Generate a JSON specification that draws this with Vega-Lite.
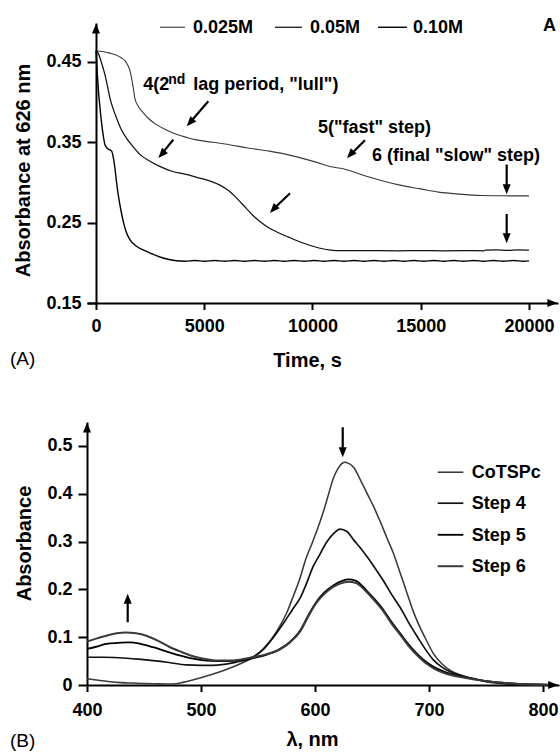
{
  "$schema": "https://vega.github.io/schema/vega-lite/v6.json",
  "padding": {"left": 10, "top": 17, "right": 0, "bottom": 0},
  "background": "white",
  "config": {
    "font": "Liberation Sans",
    "view": {"stroke": null},
    "axis": {"grid": false, "domainColor": "#000", "domainWidth": 2, "tickColor": "#000", "tickWidth": 2, "labelColor": "#000", "labelFont": "Liberation Sans", "labelFontSize": 18, "labelFontWeight": "bold", "titleColor": "#000", "titleFont": "Liberation Sans", "titleFontSize": 20, "titleFontWeight": "bold", "labelFlush": false, "labelOverlap": false},
    "axisX": {"tickSize": 6.5},
    "axisY": {"tickSize": 9, "labelPadding": 6, "titlePadding": 12},
    "text": {"font": "Liberation Sans", "fontSize": 18, "fontWeight": "bold", "color": "#000"}
  },
  "datasets": {
    "curvesA": [
      {"series":"0.025M","x":0,"y":0.464},{"series":"0.025M","x":300,"y":0.463},{"series":"0.025M","x":644,"y":0.461},{"series":"0.025M","x":900,"y":0.459},{"series":"0.025M","x":1182,"y":0.455},{"series":"0.025M","x":1350,"y":0.451},{"series":"0.025M","x":1486,"y":0.445},{"series":"0.025M","x":1580,"y":0.438},{"series":"0.025M","x":1642,"y":0.430},{"series":"0.025M","x":1720,"y":0.418},{"series":"0.025M","x":1794,"y":0.405},{"series":"0.025M","x":1950,"y":0.395},{"series":"0.025M","x":2176,"y":0.387},{"series":"0.025M","x":2450,"y":0.379},{"series":"0.025M","x":2792,"y":0.372},{"series":"0.025M","x":3200,"y":0.366},{"series":"0.025M","x":3712,"y":0.360},{"series":"0.025M","x":4200,"y":0.356},{"series":"0.025M","x":4632,"y":0.353},{"series":"0.025M","x":5400,"y":0.350},{"series":"0.025M","x":6164,"y":0.347},{"series":"0.025M","x":7000,"y":0.343},{"series":"0.025M","x":8004,"y":0.339},{"series":"0.025M","x":8800,"y":0.335},{"series":"0.025M","x":9536,"y":0.330},{"series":"0.025M","x":10200,"y":0.325},{"series":"0.025M","x":10800,"y":0.320},{"series":"0.025M","x":11420,"y":0.317},{"series":"0.025M","x":12452,"y":0.308},{"series":"0.025M","x":13984,"y":0.297},{"series":"0.025M","x":15000,"y":0.292},{"series":"0.025M","x":15824,"y":0.288},{"series":"0.025M","x":16800,"y":0.2855},{"series":"0.025M","x":17818,"y":0.2838},{"series":"0.025M","x":18500,"y":0.2835},{"series":"0.025M","x":19300,"y":0.2833},{"series":"0.025M","x":20000,"y":0.2833},
      {"series":"0.05M","x":0,"y":0.464},{"series":"0.05M","x":100,"y":0.461},{"series":"0.05M","x":184,"y":0.455},{"series":"0.05M","x":300,"y":0.445},{"series":"0.05M","x":414,"y":0.434},{"series":"0.05M","x":530,"y":0.420},{"series":"0.05M","x":644,"y":0.405},{"series":"0.05M","x":800,"y":0.391},{"series":"0.05M","x":952,"y":0.380},{"series":"0.05M","x":1150,"y":0.367},{"series":"0.05M","x":1412,"y":0.355},{"series":"0.05M","x":1700,"y":0.345},{"series":"0.05M","x":2024,"y":0.335},{"series":"0.05M","x":2450,"y":0.327},{"series":"0.05M","x":2944,"y":0.320},{"series":"0.05M","x":3500,"y":0.314},{"series":"0.05M","x":4172,"y":0.310},{"series":"0.05M","x":4700,"y":0.306},{"series":"0.05M","x":5244,"y":0.302},{"series":"0.05M","x":5700,"y":0.297},{"series":"0.05M","x":6164,"y":0.289},{"series":"0.05M","x":6550,"y":0.279},{"series":"0.05M","x":6932,"y":0.268},{"series":"0.05M","x":7250,"y":0.259},{"series":"0.05M","x":7544,"y":0.252},{"series":"0.05M","x":7900,"y":0.245},{"series":"0.05M","x":8312,"y":0.239},{"series":"0.05M","x":8900,"y":0.232},{"series":"0.05M","x":9536,"y":0.225},{"series":"0.05M","x":10100,"y":0.220},{"series":"0.05M","x":10764,"y":0.216},{"series":"0.05M","x":11100,"y":0.2153},{"series":"0.05M","x":12000,"y":0.2151},{"series":"0.05M","x":13000,"y":0.2152},{"series":"0.05M","x":14000,"y":0.2150},{"series":"0.05M","x":15000,"y":0.2151},{"series":"0.05M","x":16000,"y":0.2150},{"series":"0.05M","x":17000,"y":0.2151},{"series":"0.05M","x":17900,"y":0.2150},{"series":"0.05M","x":18000,"y":0.2158},{"series":"0.05M","x":18500,"y":0.2161},{"series":"0.05M","x":19000,"y":0.2156},{"series":"0.05M","x":19500,"y":0.2161},{"series":"0.05M","x":20000,"y":0.2157},
      {"series":"0.10M","x":0,"y":0.464},{"series":"0.10M","x":60,"y":0.435},{"series":"0.10M","x":120,"y":0.412},{"series":"0.10M","x":184,"y":0.393},{"series":"0.10M","x":300,"y":0.365},{"series":"0.10M","x":414,"y":0.347},{"series":"0.10M","x":550,"y":0.342},{"series":"0.10M","x":722,"y":0.339},{"series":"0.10M","x":800,"y":0.331},{"series":"0.10M","x":874,"y":0.318},{"series":"0.10M","x":950,"y":0.300},{"series":"0.10M","x":1026,"y":0.285},{"series":"0.10M","x":1140,"y":0.267},{"series":"0.10M","x":1256,"y":0.252},{"series":"0.10M","x":1400,"y":0.238},{"series":"0.10M","x":1564,"y":0.229},{"series":"0.10M","x":1850,"y":0.221},{"series":"0.10M","x":2176,"y":0.216},{"series":"0.10M","x":2600,"y":0.211},{"series":"0.10M","x":3096,"y":0.206},{"series":"0.10M","x":3712,"y":0.2025},
      {"series":"0.10M","x":4100,"y":0.2020},{"series":"0.10M","x":4560,"y":0.2029},{"series":"0.10M","x":5020,"y":0.2020},{"series":"0.10M","x":5480,"y":0.2029},{"series":"0.10M","x":5940,"y":0.2020},{"series":"0.10M","x":6400,"y":0.2029},{"series":"0.10M","x":6860,"y":0.2020},{"series":"0.10M","x":7320,"y":0.2029},{"series":"0.10M","x":7780,"y":0.2020},{"series":"0.10M","x":8240,"y":0.2029},{"series":"0.10M","x":8700,"y":0.2020},{"series":"0.10M","x":9160,"y":0.2029},{"series":"0.10M","x":9620,"y":0.2020},{"series":"0.10M","x":10080,"y":0.2029},{"series":"0.10M","x":10540,"y":0.2020},{"series":"0.10M","x":11000,"y":0.2029},{"series":"0.10M","x":11460,"y":0.2020},{"series":"0.10M","x":11920,"y":0.2029},{"series":"0.10M","x":12380,"y":0.2020},{"series":"0.10M","x":12840,"y":0.2029},{"series":"0.10M","x":13300,"y":0.2020},{"series":"0.10M","x":13760,"y":0.2029},{"series":"0.10M","x":14220,"y":0.2020},{"series":"0.10M","x":14680,"y":0.2029},{"series":"0.10M","x":15140,"y":0.2020},{"series":"0.10M","x":15600,"y":0.2029},{"series":"0.10M","x":16060,"y":0.2020},{"series":"0.10M","x":16520,"y":0.2029},{"series":"0.10M","x":16980,"y":0.2020},{"series":"0.10M","x":17440,"y":0.2029},{"series":"0.10M","x":17900,"y":0.2020},{"series":"0.10M","x":18360,"y":0.2029},{"series":"0.10M","x":18820,"y":0.2020},{"series":"0.10M","x":19280,"y":0.2029},{"series":"0.10M","x":19740,"y":0.2020},{"series":"0.10M","x":20000,"y":0.2024}
    ],
    "legA": [
      {"series":"0.025M","x":2956,"x2":4111,"y":0.4932},
      {"series":"0.05M","x":8268,"x2":9515,"y":0.4932},
      {"series":"0.10M","x":13026,"x2":14365,"y":0.4932}
    ],
    "textA": [
      {"x":4480,"y":0.4919,"label":"0.025M"},
      {"x":9885,"y":0.4919,"label":"0.05M"},
      {"x":14642,"y":0.4919,"label":"0.10M"},
      {"x":20647,"y":0.4942,"label":"A"},
      {"x":2185,"y":0.4216,"label":"4(2"},
      {"x":4494,"y":0.4216,"label":"lag period, \"lull\")"},
      {"x":10254,"y":0.3675,"label":"5(\"fast\" step)"},
      {"x":12748,"y":0.3326,"label":"6 (final \"slow\" step)"}
    ],
    "supA": [{"x":3339,"y":0.4271,"label":"nd"}],
    "panelLabelA": [{"x":-3972,"y":0.0799,"label":"(A)"}],
    "arrowsA": [
      {"x":5187,"y":0.4011,"x2":4342,"y2":0.3747},
      {"x":3571,"y":0.3534,"x2":3025,"y2":0.3353},
      {"x":8961,"y":0.2865,"x2":8190,"y2":0.2666},
      {"x":12425,"y":0.3525,"x2":11755,"y2":0.3345},
      {"x":18970,"y":0.3223,"x2":18970,"y2":0.2915},
      {"x":18970,"y":0.2608,"x2":18970,"y2":0.2305}
    ],
    "headsA": [
      {"dir":"diag","x":4189,"y":0.3700},
      {"dir":"diag","x":2878,"y":0.3305},
      {"dir":"diag","x":8037,"y":0.2620},
      {"dir":"diag","x":11594,"y":0.3301},
      {"dir":"down","x":18970,"y":0.2853},
      {"dir":"down","x":18970,"y":0.2243},
      {"dir":"up","x":1,"y":0.4978},
      {"dir":"right","x":21310,"y":0.1501}
    ],
    "curvesB": [
      {"series":"CoTSPc","x":400,"y":0.013},{"series":"CoTSPc","x":410,"y":0.010},{"series":"CoTSPc","x":420,"y":0.007},{"series":"CoTSPc","x":430,"y":0.005},{"series":"CoTSPc","x":440,"y":0.004},{"series":"CoTSPc","x":450,"y":0.003},{"series":"CoTSPc","x":460,"y":0.0025},{"series":"CoTSPc","x":475,"y":0.002},{"series":"CoTSPc","x":485,"y":0.006},{"series":"CoTSPc","x":495,"y":0.012},{"series":"CoTSPc","x":505,"y":0.019},{"series":"CoTSPc","x":516,"y":0.027},{"series":"CoTSPc","x":525,"y":0.035},{"series":"CoTSPc","x":534,"y":0.044},{"series":"CoTSPc","x":545,"y":0.057},{"series":"CoTSPc","x":555,"y":0.077},{"series":"CoTSPc","x":563,"y":0.100},{"series":"CoTSPc","x":570,"y":0.127},{"series":"CoTSPc","x":575,"y":0.150},{"series":"CoTSPc","x":581,"y":0.186},{"series":"CoTSPc","x":587,"y":0.225},{"series":"CoTSPc","x":592,"y":0.264},{"series":"CoTSPc","x":597,"y":0.294},{"series":"CoTSPc","x":602,"y":0.325},{"series":"CoTSPc","x":607,"y":0.360},{"series":"CoTSPc","x":612,"y":0.400},{"series":"CoTSPc","x":616,"y":0.432},{"series":"CoTSPc","x":620,"y":0.452},{"series":"CoTSPc","x":623,"y":0.462},{"series":"CoTSPc","x":626,"y":0.466},{"series":"CoTSPc","x":629,"y":0.464},{"series":"CoTSPc","x":634,"y":0.455},{"series":"CoTSPc","x":640,"y":0.428},{"series":"CoTSPc","x":646,"y":0.399},{"series":"CoTSPc","x":652,"y":0.370},{"series":"CoTSPc","x":657,"y":0.343},{"series":"CoTSPc","x":663,"y":0.308},{"series":"CoTSPc","x":669,"y":0.274},{"series":"CoTSPc","x":675,"y":0.232},{"series":"CoTSPc","x":681,"y":0.190},{"series":"CoTSPc","x":686,"y":0.155},{"series":"CoTSPc","x":692,"y":0.121},{"series":"CoTSPc","x":698,"y":0.092},{"series":"CoTSPc","x":704,"y":0.065},{"series":"CoTSPc","x":711,"y":0.045},{"series":"CoTSPc","x":719,"y":0.030},{"series":"CoTSPc","x":729,"y":0.020},{"series":"CoTSPc","x":739,"y":0.013},{"series":"CoTSPc","x":750,"y":0.007},{"series":"CoTSPc","x":763,"y":0.003},{"series":"CoTSPc","x":780,"y":0.001},{"series":"CoTSPc","x":800,"y":0.0},{"series":"CoTSPc","x":812,"y":0.0},
      {"series":"Step 4","x":400,"y":0.058},{"series":"Step 4","x":415,"y":0.058},{"series":"Step 4","x":428,"y":0.057},{"series":"Step 4","x":445,"y":0.054},{"series":"Step 4","x":458,"y":0.051},{"series":"Step 4","x":472,"y":0.047},{"series":"Step 4","x":487,"y":0.042},{"series":"Step 4","x":500,"y":0.041},{"series":"Step 4","x":510,"y":0.041},{"series":"Step 4","x":520,"y":0.043},{"series":"Step 4","x":531,"y":0.048},{"series":"Step 4","x":540,"y":0.053},{"series":"Step 4","x":545,"y":0.058},{"series":"Step 4","x":555,"y":0.075},{"series":"Step 4","x":563,"y":0.098},{"series":"Step 4","x":572,"y":0.128},{"series":"Step 4","x":580,"y":0.157},{"series":"Step 4","x":587,"y":0.182},{"series":"Step 4","x":593,"y":0.215},{"series":"Step 4","x":598,"y":0.246},{"series":"Step 4","x":604,"y":0.272},{"series":"Step 4","x":610,"y":0.298},{"series":"Step 4","x":616,"y":0.316},{"series":"Step 4","x":622,"y":0.326},{"series":"Step 4","x":628,"y":0.321},{"series":"Step 4","x":634,"y":0.303},{"series":"Step 4","x":640,"y":0.286},{"series":"Step 4","x":646,"y":0.267},{"series":"Step 4","x":653,"y":0.243},{"series":"Step 4","x":660,"y":0.218},{"series":"Step 4","x":667,"y":0.190},{"series":"Step 4","x":675,"y":0.161},{"series":"Step 4","x":682,"y":0.131},{"series":"Step 4","x":690,"y":0.100},{"series":"Step 4","x":697,"y":0.074},{"series":"Step 4","x":704,"y":0.052},{"series":"Step 4","x":711,"y":0.038},{"series":"Step 4","x":719,"y":0.027},{"series":"Step 4","x":729,"y":0.019},{"series":"Step 4","x":739,"y":0.013},{"series":"Step 4","x":750,"y":0.008},{"series":"Step 4","x":763,"y":0.004},{"series":"Step 4","x":775,"y":0.002},{"series":"Step 4","x":790,"y":0.001},{"series":"Step 4","x":812,"y":0.0},
      {"series":"Step 5","x":400,"y":0.0755},{"series":"Step 5","x":408,"y":0.080},{"series":"Step 5","x":417,"y":0.086},{"series":"Step 5","x":427,"y":0.088},{"series":"Step 5","x":437,"y":0.089},{"series":"Step 5","x":447,"y":0.086},{"series":"Step 5","x":458,"y":0.079},{"series":"Step 5","x":470,"y":0.070},{"series":"Step 5","x":481,"y":0.062},{"series":"Step 5","x":493,"y":0.055},{"series":"Step 5","x":505,"y":0.051},{"series":"Step 5","x":515,"y":0.050},{"series":"Step 5","x":522,"y":0.050},{"series":"Step 5","x":535,"y":0.052},{"series":"Step 5","x":545,"y":0.056},{"series":"Step 5","x":557,"y":0.063},{"series":"Step 5","x":569,"y":0.075},{"series":"Step 5","x":578,"y":0.090},{"series":"Step 5","x":587,"y":0.114},{"series":"Step 5","x":594,"y":0.145},{"series":"Step 5","x":601,"y":0.173},{"series":"Step 5","x":608,"y":0.193},{"series":"Step 5","x":616,"y":0.208},{"series":"Step 5","x":622,"y":0.216},{"series":"Step 5","x":629,"y":0.221},{"series":"Step 5","x":636,"y":0.218},{"series":"Step 5","x":645,"y":0.198},{"series":"Step 5","x":652,"y":0.180},{"series":"Step 5","x":660,"y":0.157},{"series":"Step 5","x":667,"y":0.132},{"series":"Step 5","x":675,"y":0.107},{"series":"Step 5","x":682,"y":0.085},{"series":"Step 5","x":690,"y":0.064},{"series":"Step 5","x":697,"y":0.049},{"series":"Step 5","x":704,"y":0.038},{"series":"Step 5","x":711,"y":0.030},{"series":"Step 5","x":719,"y":0.023},{"series":"Step 5","x":729,"y":0.017},{"series":"Step 5","x":739,"y":0.013},{"series":"Step 5","x":750,"y":0.008},{"series":"Step 5","x":763,"y":0.005},{"series":"Step 5","x":777,"y":0.0025},{"series":"Step 5","x":795,"y":0.001},{"series":"Step 5","x":812,"y":0.0},
      {"series":"Step 6","x":400,"y":0.091},{"series":"Step 6","x":408,"y":0.097},{"series":"Step 6","x":417,"y":0.103},{"series":"Step 6","x":426,"y":0.108},{"series":"Step 6","x":434,"y":0.110},{"series":"Step 6","x":443,"y":0.108},{"series":"Step 6","x":452,"y":0.103},{"series":"Step 6","x":462,"y":0.093},{"series":"Step 6","x":472,"y":0.080},{"series":"Step 6","x":483,"y":0.069},{"series":"Step 6","x":493,"y":0.060},{"series":"Step 6","x":505,"y":0.054},{"series":"Step 6","x":516,"y":0.051},{"series":"Step 6","x":525,"y":0.051},{"series":"Step 6","x":534,"y":0.053},{"series":"Step 6","x":545,"y":0.058},{"series":"Step 6","x":557,"y":0.064},{"series":"Step 6","x":569,"y":0.074},{"series":"Step 6","x":578,"y":0.089},{"series":"Step 6","x":587,"y":0.112},{"series":"Step 6","x":594,"y":0.143},{"series":"Step 6","x":601,"y":0.171},{"series":"Step 6","x":608,"y":0.190},{"series":"Step 6","x":616,"y":0.205},{"series":"Step 6","x":622,"y":0.212},{"series":"Step 6","x":629,"y":0.216},{"series":"Step 6","x":636,"y":0.213},{"series":"Step 6","x":645,"y":0.195},{"series":"Step 6","x":652,"y":0.177},{"series":"Step 6","x":660,"y":0.154},{"series":"Step 6","x":667,"y":0.129},{"series":"Step 6","x":675,"y":0.104},{"series":"Step 6","x":682,"y":0.082},{"series":"Step 6","x":690,"y":0.061},{"series":"Step 6","x":697,"y":0.046},{"series":"Step 6","x":704,"y":0.035},{"series":"Step 6","x":711,"y":0.027},{"series":"Step 6","x":719,"y":0.021},{"series":"Step 6","x":729,"y":0.016},{"series":"Step 6","x":739,"y":0.012},{"series":"Step 6","x":750,"y":0.008},{"series":"Step 6","x":763,"y":0.005},{"series":"Step 6","x":777,"y":0.0025},{"series":"Step 6","x":795,"y":0.001},{"series":"Step 6","x":812,"y":0.0}
    ],
    "legB": [
      {"series":"CoTSPc","x":707.6,"x2":730.1,"y":0.445},
      {"series":"Step 4","x":707.6,"x2":730.1,"y":0.3802},
      {"series":"Step 5","x":707.6,"x2":730.1,"y":0.3141},
      {"series":"Step 6","x":707.6,"x2":730.1,"y":0.2484}
    ],
    "textB": [
      {"x":737.4,"y":0.4433,"label":"CoTSPc"},
      {"x":737.4,"y":0.3785,"label":"Step 4"},
      {"x":737.4,"y":0.3124,"label":"Step 5"},
      {"x":737.4,"y":0.2465,"label":"Step 6"}
    ],
    "panelLabelB": [{"x":332.5,"y":-0.1181,"label":"(B)"}],
    "arrowsB": [
      {"x":624.3,"y":0.539,"x2":624.3,"y2":0.4868},
      {"x":435.7,"y":0.1313,"x2":435.7,"y2":0.1803}
    ],
    "headsB": [
      {"dir":"down","x":624.3,"y":0.4764},
      {"dir":"up","x":435.7,"y":0.1907},
      {"dir":"up","x":400.05,"y":0.5492},
      {"dir":"right","x":813.3,"y":0.0002}
    ]
  },
  "spacing": 51,
  "vconcat": [
    {
      "width": 471,
      "height": 280,
      "encoding": {
        "x": {"field": "x", "type": "quantitative", "scale": {"domain": [-416, 21340], "nice": false, "zero": false},
              "axis": {"values": [0, 5000, 10000, 15000, 20000], "format": "d", "title": "Time, s", "labelPadding": 8, "titlePadding": 15, "titleX": 220}},
        "y": {"field": "y", "type": "quantitative", "scale": {"domain": [0.15, 0.4985], "nice": false, "zero": false},
              "axis": {"values": [0.15, 0.25, 0.35, 0.45], "format": ".2f", "title": "Absorbance at 626 nm", "titleY": 147, "offset": -9}}
      },
      "layer": [
        {"data": {"name": "curvesA"}, "mark": {"type": "line", "interpolate": "monotone"},
         "encoding": {
           "color": {"field": "series", "type": "nominal", "scale": {"domain": ["0.025M", "0.05M", "0.10M"], "range": ["#3a3a3a", "#111111", "#000000"]}, "legend": null},
           "strokeWidth": {"field": "series", "type": "ordinal", "scale": {"domain": ["0.025M", "0.05M", "0.10M"], "range": [1.1, 2, 3.2]}, "legend": null}}},
        {"data": {"name": "legA"}, "mark": {"type": "rule"},
         "encoding": {
           "x2": {"field": "x2"},
           "color": {"field": "series", "type": "nominal", "legend": null},
           "strokeWidth": {"field": "series", "type": "ordinal", "legend": null}}},
        {"data": {"name": "textA"}, "mark": {"type": "text", "align": "left", "baseline": "middle", "fontSize": 18, "fontWeight": "bold"},
         "encoding": {"text": {"field": "label"}}},
        {"data": {"name": "supA"}, "mark": {"type": "text", "align": "left", "baseline": "middle", "fontSize": 14, "fontWeight": "bold"},
         "encoding": {"text": {"field": "label"}}},
        {"data": {"name": "panelLabelA"}, "mark": {"type": "text", "align": "left", "baseline": "middle", "fontSize": 19, "fontWeight": "normal"},
         "encoding": {"text": {"field": "label"}}},
        {"data": {"name": "arrowsA"}, "mark": {"type": "rule", "strokeWidth": 2.2, "color": "#000"},
         "encoding": {"x2": {"field": "x2"}, "y2": {"field": "y2"}}},
        {"data": {"name": "headsA"}, "transform": [{"filter": "datum.dir == 'diag'"}],
         "mark": {"type": "point", "shape": "M0,0L-0.4,1L0.4,1Z", "size": 400, "filled": true, "color": "#000", "opacity": 1, "strokeWidth": 0, "angle": 222}},
        {"data": {"name": "headsA"}, "transform": [{"filter": "datum.dir == 'down'"}],
         "mark": {"type": "point", "shape": "M0,0L-0.4,1L0.4,1Z", "size": 400, "filled": true, "color": "#000", "opacity": 1, "strokeWidth": 0, "angle": 180}},
        {"data": {"name": "headsA"}, "transform": [{"filter": "datum.dir == 'up'"}],
         "mark": {"type": "point", "shape": "M0,0L-0.4,1L0.4,1Z", "size": 400, "filled": true, "color": "#000", "opacity": 1, "strokeWidth": 0, "angle": 0}},
        {"data": {"name": "headsA"}, "transform": [{"filter": "datum.dir == 'right'"}],
         "mark": {"type": "point", "shape": "M0,0L-0.4,1L0.4,1Z", "size": 400, "filled": true, "color": "#000", "opacity": 1, "strokeWidth": 0, "angle": 90}}
      ]
    },
    {
      "width": 472,
      "height": 263,
      "encoding": {
        "x": {"field": "x", "type": "quantitative", "scale": {"domain": [400, 814], "nice": false, "zero": false},
              "axis": {"values": [400, 500, 600, 700, 800], "format": "d", "title": "λ, nm", "labelPadding": 10, "titlePadding": 10, "titleX": 225}},
        "y": {"field": "y", "type": "quantitative", "scale": {"domain": [0, 0.55], "nice": false, "zero": false},
              "axis": {"values": [0, 0.1, 0.2, 0.3, 0.4, 0.5], "format": "~g", "title": "Absorbance", "titleY": 121}}
      },
      "layer": [
        {"data": {"name": "curvesB"}, "mark": {"type": "line", "interpolate": "monotone"},
         "encoding": {
           "color": {"field": "series", "type": "nominal", "scale": {"domain": ["CoTSPc", "Step 4", "Step 5", "Step 6"], "range": ["#1a1a1a", "#3a3a3a", "#707070", "#4a4a4a"]}, "legend": null},
           "strokeWidth": {"field": "series", "type": "ordinal", "scale": {"domain": ["CoTSPc", "Step 4", "Step 5", "Step 6"], "range": [1.3, 1.3, 1.8, 1.3]}, "legend": null}}},
        {"data": {"name": "legB"}, "mark": {"type": "rule"},
         "encoding": {
           "x2": {"field": "x2"},
           "color": {"field": "series", "type": "nominal", "legend": null},
           "strokeWidth": {"field": "series", "type": "ordinal", "legend": null}}},
        {"data": {"name": "textB"}, "mark": {"type": "text", "align": "left", "baseline": "middle", "fontSize": 18, "fontWeight": "bold"},
         "encoding": {"text": {"field": "label"}}},
        {"data": {"name": "panelLabelB"}, "mark": {"type": "text", "align": "left", "baseline": "middle", "fontSize": 19, "fontWeight": "normal"},
         "encoding": {"text": {"field": "label"}}},
        {"data": {"name": "arrowsB"}, "mark": {"type": "rule", "strokeWidth": 2.2, "color": "#000"},
         "encoding": {"x2": {"field": "x2"}, "y2": {"field": "y2"}}},
        {"data": {"name": "headsB"}, "transform": [{"filter": "datum.dir == 'down'"}],
         "mark": {"type": "point", "shape": "M0,0L-0.4,1L0.4,1Z", "size": 400, "filled": true, "color": "#000", "opacity": 1, "strokeWidth": 0, "angle": 180}},
        {"data": {"name": "headsB"}, "transform": [{"filter": "datum.dir == 'up'"}],
         "mark": {"type": "point", "shape": "M0,0L-0.4,1L0.4,1Z", "size": 400, "filled": true, "color": "#000", "opacity": 1, "strokeWidth": 0, "angle": 0}},
        {"data": {"name": "headsB"}, "transform": [{"filter": "datum.dir == 'right'"}],
         "mark": {"type": "point", "shape": "M0,0L-0.4,1L0.4,1Z", "size": 400, "filled": true, "color": "#000", "opacity": 1, "strokeWidth": 0, "angle": 90}}
      ]
    }
  ]
}
